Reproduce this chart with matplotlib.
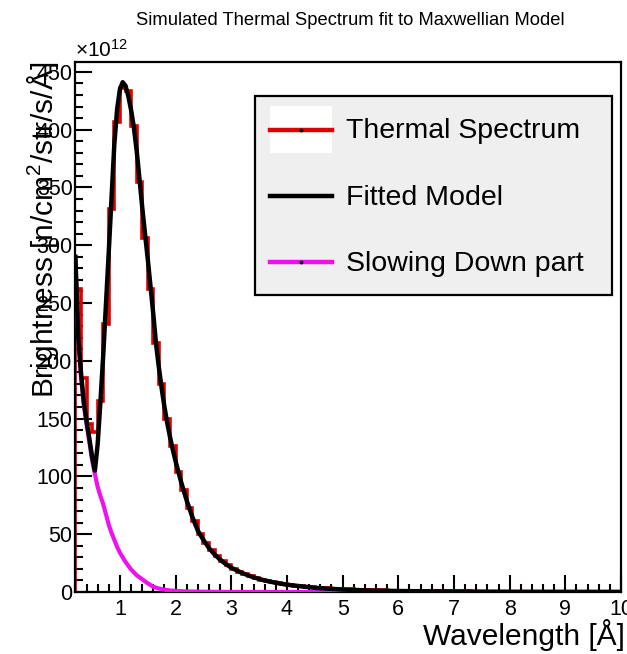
import numpy as np
import matplotlib
matplotlib.use("Agg")
import matplotlib.pyplot as plt
from matplotlib.patches import Rectangle
from matplotlib.lines import Line2D
from matplotlib.ticker import MultipleLocator

# simulated thermal spectrum, brightness in units of 1e12, 0.1 A bins from 0.2 A
bin_start = 0.2
bin_width = 0.1
thermal_counts = [
    262, 185, 145, 138, 165, 232, 331, 407, 436, 433,
    403, 355, 306, 262, 215, 180, 150, 126, 104, 88,
    73, 61, 50, 42, 36, 31, 26.5, 23, 20, 17.5,
    15.5, 13.5, 12, 10.6, 9.5, 8.5, 7.6, 6.8, 6.1, 5.5,
    5.0, 4.5, 4.1, 3.7, 3.4, 3.1, 2.8, 2.6, 2.4, 2.2,
    2.0, 1.85, 1.7, 1.6, 1.45, 1.35, 1.25, 1.15, 1.07, 1.0,
    0.93, 0.86, 0.8, 0.75, 0.7, 0.65, 0.6, 0.56, 0.52, 0.49,
    0.46, 0.43, 0.4, 0.38, 0.35, 0.33, 0.31, 0.29, 0.27, 0.26,
    0.24, 0.23, 0.21, 0.2, 0.19, 0.18, 0.17, 0.16, 0.15, 0.14,
    0.135, 0.13, 0.12, 0.115, 0.11, 0.105, 0.1, 0.095,
]

# fitted model (maxwellian + slowing down)
fit_wavelength = [
    0.2, 0.25, 0.3, 0.35, 0.4, 0.45, 0.5, 0.55, 0.6, 0.65,
    0.7, 0.75, 0.8, 0.85, 0.9, 0.95, 1.0, 1.05, 1.1, 1.15,
    1.2, 1.25, 1.3, 1.35, 1.4, 1.45, 1.5, 1.55, 1.6, 1.65,
    1.7, 1.75, 1.8, 1.85, 1.9, 1.95, 2.0, 2.1, 2.2, 2.3,
    2.4, 2.5, 2.6, 2.7, 2.8, 2.9, 3.0, 3.2, 3.4, 3.6,
    3.8, 4.0, 4.5, 5.0, 5.5, 6.0, 7.0, 8.0, 9.0, 10.0,
]
fit_brightness = [
    290, 222, 190, 165, 148, 133, 117, 105, 128, 165,
    205, 250, 295, 342, 388, 418, 435, 441, 438, 429,
    417, 402, 382, 358, 333, 310, 288, 264, 240, 214,
    194, 176, 160, 146, 134, 123, 113, 95, 79, 65,
    53, 45, 38, 32.5, 28, 24.2, 21, 16.3, 12.7, 10,
    7.9, 6.3, 3.6, 2.1, 1.3, 0.85, 0.4, 0.2, 0.11, 0.07,
]

# slowing down component
slow_wavelength = [
    0.2, 0.25, 0.3, 0.35, 0.4, 0.45, 0.5, 0.55, 0.6, 0.65,
    0.7, 0.75, 0.8, 0.85, 0.9, 0.95, 1.0, 1.1, 1.2, 1.3,
    1.4, 1.5, 1.6, 1.7, 1.8, 1.9, 2.0, 2.2, 2.5, 3.0,
    4.0, 10.0,
]
slow_brightness = [
    287, 220, 187, 162, 145, 130, 114, 102, 91, 83,
    76, 67, 58, 51, 45, 39, 34, 26, 19.5, 14.5,
    11, 7.5, 4.5, 3, 2, 1.3, 0.9, 0.5, 0.2, 0.05,
    0.02, 0.0,
]

legend_labels = ["Thermal Spectrum", "Fitted Model", "Slowing Down part"]

W, H = 627, 654


def fx(px):
    return px / W


def fy(py):
    return 1 - py / H


def main():
    plt.rcParams['font.family'] = ['Liberation Sans', 'DejaVu Sans']
    plt.rcParams['mathtext.default'] = 'regular'

    fig = plt.figure(figsize=(W / 100, H / 100), dpi=100)
    ax = fig.add_axes([fx(75.4), fy(592), fx(621) - fx(75.4), fy(62) - fy(592)])

    red = '#e00000'
    mag = '#ee11ee'

    edges = bin_start + bin_width * np.arange(len(thermal_counts) + 1)
    ax.stairs(thermal_counts, edges, color=red, lw=2.6, zorder=2)
    ax.plot(slow_wavelength, slow_brightness, color=mag, lw=3, zorder=3)
    ax.plot(fit_wavelength, fit_brightness, color='black', lw=3.2, zorder=4)

    ax.set_xlim(0.2, 10)
    ax.set_ylim(0, 458.5)
    ax.xaxis.set_major_locator(MultipleLocator(1))
    ax.xaxis.set_minor_locator(MultipleLocator(0.2))
    ax.yaxis.set_major_locator(MultipleLocator(50))
    ax.yaxis.set_minor_locator(MultipleLocator(10))
    ax.tick_params(which='both', direction='in', top=False, right=False, width=1.5, labelsize=15.5)
    ax.tick_params(which='major', length=12)
    ax.tick_params(which='minor', length=6)
    ax.tick_params(axis='y', pad=2)
    ax.tick_params(axis='x', pad=5)
    for s in ax.spines.values():
        s.set_linewidth(1.6)

    # titles
    fig.text(fx(350.5), fy(25), "Simulated Thermal Spectrum fit to Maxwellian Model",
             ha='center', va='baseline', fontsize=13.2)
    fig.text(fx(75), fy(57), r'$\times10^{12}$', ha='left', va='baseline', fontsize=15)
    fig.text(fx(625), fy(645), "Wavelength [Å]", ha='right', va='baseline', fontsize=21.5)
    fig.text(fx(53), fy(62), r'Brightness [n/cm$^{2}$/str/s/Å]', rotation=90,
             rotation_mode='anchor', ha='right', va='baseline', fontsize=21.5)

    # legend box drawn by hand
    fig.add_artist(Rectangle((fx(255), fy(295)), fx(612) - fx(255), fy(96) - fy(295),
                             transform=fig.transFigure, facecolor='#efefef',
                             edgecolor='black', lw=1.6, zorder=5))
    fig.add_artist(Rectangle((fx(270), fy(153)), fx(332) - fx(270), fy(106) - fy(153),
                             transform=fig.transFigure, facecolor='white',
                             edgecolor='none', zorder=6))
    rows = [129.5, 196, 262]
    colors = [red, 'black', mag]
    dots = [True, False, True]
    for lab, yy, c, d in zip(legend_labels, rows, colors, dots):
        fig.add_artist(Line2D([fx(270), fx(332)], [fy(yy), fy(yy)], transform=fig.transFigure,
                              color=c, lw=3.2, zorder=7))
        if d:
            fig.add_artist(Line2D([fx(301)], [fy(yy)], transform=fig.transFigure, marker='o',
                                  ms=1.8, color='black', zorder=8))
        fig.text(fx(346), fy(yy + 9), lab, ha='left', va='baseline', fontsize=20.5, zorder=8)

    fig.savefig('out.png', dpi=100)


if __name__ == '__main__':
    main()
